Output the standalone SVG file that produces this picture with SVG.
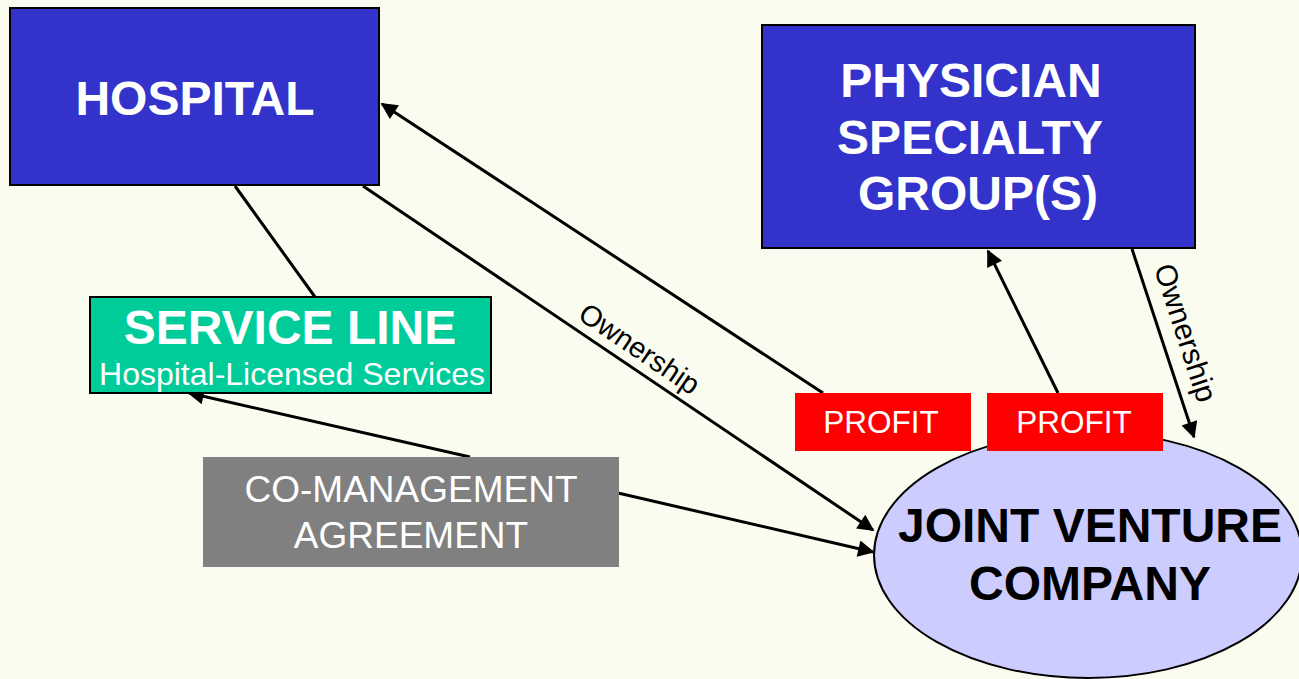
<svg xmlns="http://www.w3.org/2000/svg" width="1299" height="679" viewBox="0 0 1299 679">
<defs>
<marker id="ah" viewBox="0 0 10 10" refX="9" refY="5" markerWidth="6.5" markerHeight="5.5" orient="auto" markerUnits="strokeWidth">
<path d="M0,0 L10,5 L0,10 Z" fill="#000"/>
</marker>
</defs>
<style>
.bold{font-family:"Liberation Sans",Arial,sans-serif;font-weight:bold;fill:#fff;text-anchor:middle}
.reg{font-family:"Liberation Sans",Arial,sans-serif;fill:#fff;text-anchor:middle}
.lbl{font-family:"Liberation Sans",Arial,sans-serif;fill:#000;text-anchor:middle}
.ln{stroke:#000;stroke-width:3;fill:none}
.arr{stroke:#000;stroke-width:3;fill:none;marker-end:url(#ah)}
</style>
<rect width="1299" height="679" fill="#fafcef"/>
<g id="jv">
<ellipse cx="1088" cy="555" rx="214" ry="123" fill="#ccccff" stroke="#000" stroke-width="2"/>
<text class="bold" x="1090" y="542" font-size="48" style="fill:#000">JOINT VENTURE</text>
<text class="bold" x="1090" y="600" font-size="48" style="fill:#000">COMPANY</text>
</g>
<g id="connectors">
<line class="ln" x1="235" y1="186" x2="315" y2="297"/>
<line class="arr" x1="823" y1="393" x2="382" y2="104"/>
<line class="arr" x1="363" y1="186" x2="873" y2="530"/>
<line class="arr" x1="1058" y1="393" x2="988" y2="251"/>
<line class="arr" x1="1132" y1="249" x2="1194" y2="437"/>
<line class="arr" x1="470" y1="457" x2="189" y2="393"/>
<line class="arr" x1="618" y1="493" x2="873" y2="552"/>
<text class="lbl" font-size="29" transform="translate(634,357) rotate(34)">Ownership</text>
<text class="lbl" font-size="30" transform="translate(1176,336) rotate(72)">Ownership</text>
</g>
<g id="hospital">
<rect x="10" y="8" width="369" height="177" fill="#3333cc" stroke="#000" stroke-width="2"/>
<text class="bold" x="195" y="115" font-size="48">HOSPITAL</text>
</g>
<g id="physician">
<rect x="762" y="25" width="433" height="223" fill="#3333cc" stroke="#000" stroke-width="2"/>
<text class="bold" x="971" y="97" font-size="48">PHYSICIAN</text>
<text class="bold" x="970" y="154" font-size="48">SPECIALTY</text>
<text class="bold" x="978" y="210" font-size="48">GROUP(S)</text>
</g>
<g id="serviceline">
<rect x="90" y="297" width="401" height="96" fill="#00cc99" stroke="#000" stroke-width="2"/>
<text class="bold" x="290" y="344" font-size="48">SERVICE LINE</text>
<text class="reg" x="292" y="385" font-size="32">Hospital-Licensed Services</text>
</g>
<g id="comanagement">
<rect x="203" y="457" width="416" height="110" fill="#808080"/>
<text class="reg" x="411" y="502" font-size="37">CO-MANAGEMENT</text>
<text class="reg" x="411" y="548" font-size="37">AGREEMENT</text>
</g>
<g id="profit1">
<rect x="795" y="393" width="176" height="58" fill="#ff0000"/>
<text class="reg" x="881" y="433" font-size="31.5">PROFIT</text>
</g>
<g id="profit2">
<rect x="987" y="393" width="176" height="58" fill="#ff0000"/>
<text class="reg" x="1074" y="433" font-size="31.5">PROFIT</text>
</g>
</svg>
